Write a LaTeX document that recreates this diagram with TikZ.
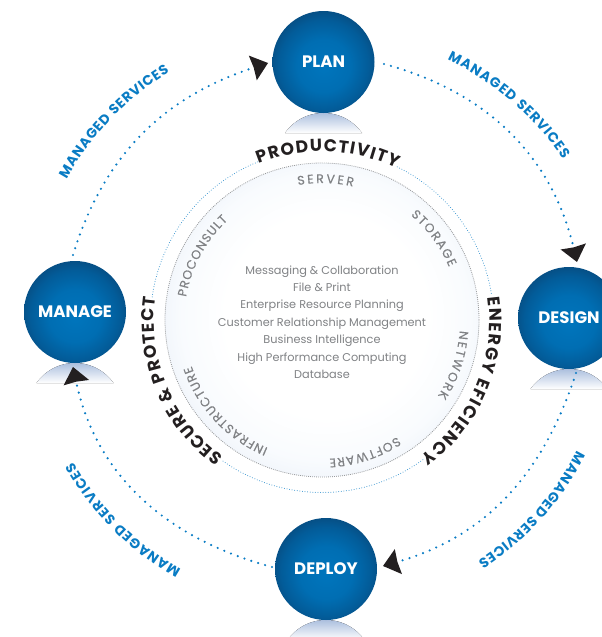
\documentclass[tikz,border=0pt]{standalone}
\usepackage{fontspec}
\setmainfont{Poppins}
\newfontfamily\ringfont{Poppins}[FakeBold=0.35]
\usetikzlibrary{decorations.text,arrows.meta,calc}
\definecolor{svcblue}{HTML}{0A7CC4}
\definecolor{labgray}{HTML}{808285}
\definecolor{inkblack}{HTML}{231F20}
\definecolor{refltop}{HTML}{A6BBDC}
\pgfdeclareradialshading{ballshade}{\pgfpoint{0bp}{-2.5bp}}{rgb(0bp)=(0,0.46,0.74);rgb(13bp)=(0,0.43,0.70);rgb(22bp)=(0.01,0.36,0.60);rgb(28bp)=(0.03,0.29,0.49);rgb(33bp)=(0.07,0.23,0.39);rgb(50bp)=(0.07,0.23,0.39)}
\pgfdeclareradialshading{coreshade}{\pgfpoint{1bp}{1bp}}{rgb(0bp)=(1,1,1);rgb(16bp)=(1,1,1);rgb(23bp)=(0.975,0.985,0.995);rgb(28bp)=(0.93,0.95,0.98);rgb(32bp)=(0.86,0.90,0.955);rgb(35bp)=(0.82,0.87,0.94);rgb(50bp)=(0.82,0.87,0.94)}
\newcommand{\arctext}[5]{\path[decorate,decoration={text along path,text={|#1|#5},text align={fit to path}}] ($(ctr)+(#2:#4)$) arc[start angle=#2,end angle=#3,radius=#4];}
\newcommand{\reflect}[2]{\fill[top color=refltop,bottom color=white] (#1-38.5,#2-20) arc[start angle=145,end angle=35,radius=47] -- cycle;}
\newcommand{\ringarc}[2]{\draw[ringdots] ($(ctr)+(#1:171.5)$) arc[start angle=#1,end angle=#2,radius=171.5];}
\tikzset{
  x=1pt,y=1pt,
  ball/.style={circle,minimum size=102pt,inner sep=0pt,shading=ballshade,text=white,font=\fontsize{16.6}{18}\selectfont\bfseries},
  flowdots/.style={svcblue,line width=2.4pt,line cap=round,dash pattern=on 0pt off 7.2pt,
    -{Stealth[length=16pt,width=26pt,inset=1pt,inkblack,line width=0pt]}},
  ringdots/.style={svcblue!85,line width=1pt,line cap=round,dash pattern=on 0pt off 2.6pt},
  corecircle/.style={circle,minimum size=314pt,inner sep=0pt,shading=coreshade,draw=labgray!80,line width=0.8pt,dash pattern=on 0.9pt off 1.1pt},
  coretext/.style={text=labgray,align=center,font=\fontsize{11.3}{17.4}\selectfont}
}
\newcommand{\svcfmt}{\color{svcblue}\fontsize{13.8}{14}\selectfont\bfseries}
\newcommand{\thmfmt}{\color{inkblack}\fontsize{17.2}{18}\selectfont\bfseries}
\newcommand{\ringfmt}{\color{labgray}\ringfont\fontsize{12.4}{13}\selectfont}
\begin{document}
\begin{tikzpicture}
\useasboundingbox (0,0) rectangle (602,-637);
\clip (0,0) rectangle (602,-637);
\coordinate (ctr) at (322,-321);
% reflections
\reflect{323.5}{-113}
\reflect{569}{-369}
\reflect{75}{-363}
\reflect{326}{-620}
% spheres
\node[ball] (plan) at (323.5,-62) {PLAN};
\node[ball] (design) at (569,-318) {DESIGN};
\node[ball] (manage) at (75,-312) {MANAGE};
\node[ball] (deploy) at (326,-569) {DEPLOY};
% core
\node[corecircle] (core) at (322,-320) {};
\node[coretext] (apps) at (322,-322) {Messaging \& Collaboration\\File \& Print\\Enterprise Resource Planning\\Customer Relationship Management\\Business Intelligence\\High Performance Computing\\Database};
% ring dotted arcs
\ringarc{112}{172}
\ringarc{64}{9}
\ringarc{-54}{-126}
% flow connectors
\coordinate (pd1) at (384,-64);
\coordinate (pd2) at (577,-262);
\coordinate (dd1) at (576,-373);
\coordinate (dd2) at (383,-566);
\coordinate (dm1) at (272,-567);
\coordinate (dm2) at (73,-367);
\coordinate (mp1) at (73,-255);
\coordinate (mp2) at (268,-63);
\draw[flowdots] (pd1) to[out=-15,in=103.5] (pd2);
\draw[flowdots] (dd1) to[out=-108,in=16] (dd2);
\draw[flowdots] (dm1) to[out=165,in=-78] (dm2);
\draw[flowdots] (mp1) to[out=73,in=-162] (mp2);
% curved labels
\arctext{\svcfmt}{64.4}{33.8}{290}{MANAGED SERVICES}
\arctext{\svcfmt}{151}{121.5}{292}{MANAGED SERVICES}
\arctext{\svcfmt}{-27}{-57}{286}{MANAGED SERVICES}
\arctext{\svcfmt}{240.5}{209.5}{286}{MANAGED SERVICES}
\arctext{\thmfmt}{112}{64}{169.5}{PRODUCTIVITY}
\arctext{\thmfmt}{8}{-54}{167.5}{ENERGY EFICIENCY}
\arctext{\thmfmt}{234}{172}{168}{SECURE {\&} PROTECT}
\arctext{\ringfmt}{100}{77}{138}{SERVER}
\arctext{\ringfmt}{50}{23}{138}{STORAGE}
\arctext{\ringfmt}{-4}{-33}{138}{NETWORK}
\arctext{\ringfmt}{-57}{-87}{138}{SOFTWARE}
\arctext{\ringfmt}{247}{199}{138}{INFRASTRUCTURE}
\arctext{\ringfmt}{170}{133}{138}{PROCONSULT}
\end{tikzpicture}
\end{document}
